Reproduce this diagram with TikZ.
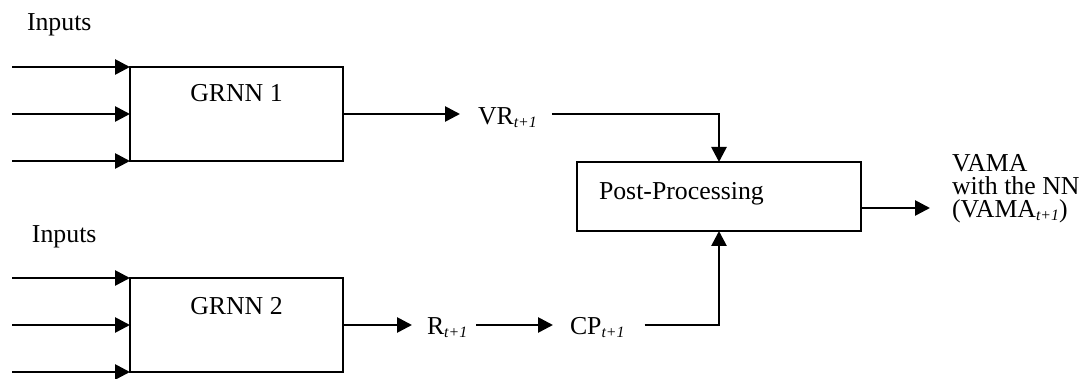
\documentclass[tikz,border=0pt]{standalone}
\usepackage{fontspec}
\setmainfont{Liberation Serif}
\usetikzlibrary{arrows.meta}
\newcommand\tsub{\raisebox{-1.5pt}{\fontsize{7.9}{8}\selectfont\itshape t+1}}
\begin{document}
\begin{tikzpicture}[x=0.5pt,y=-0.5pt,
  every node/.style={font=\fontsize{12.9}{14}\selectfont},
  box/.style={draw, line width=0.95pt, inner sep=0pt, outer sep=0pt},
  lbl/.style={inner sep=0pt, outer sep=0pt, anchor=base west},
  ctr/.style={inner sep=0pt, outer sep=0pt, anchor=base},
  arr/.style={line width=1.35pt, -{Triangle[length=7.5pt,width=7.5pt]}}]
\useasboundingbox (0,0) rectangle (1084,379);
\coordinate (L) at (12,0);
\coordinate (O) at (0,208);
% boxes
\node[box, minimum width=106.5pt, minimum height=47pt] (g1) at (236.5,114) {};
\node[box, minimum width=106.5pt, minimum height=47pt] (g2) at (236.5,325) {};
\node[box, minimum width=142pt, minimum height=34.5pt] (pp) at (719,196.5) {};
% labels
\node[lbl] (in1) at (27,31) {Inputs};
\node[lbl] (in2) at (32,243) {Inputs};
\node[ctr] (t1) at (236.5,102) {GRNN 1};
\node[ctr] (t2) at (236.5,315) {GRNN 2};
\node[lbl] (tp) at (599,200) {Post-Processing};
\node[lbl] (vr) at (478,125) {VR\tsub};
\node[lbl] (r) at (427,335) {R\tsub};
\node[lbl] (cp) at (570,335) {CP\tsub};
\node[lbl] (o1) at (952,172) {VAMA};
\node[lbl] (o2) at (952,195) {with the NN};
\node[lbl] (o3) at (952,218) {(VAMA\tsub)};
% input arrows
\foreach \b in {g1,g2}{
  \foreach \a in {north west, west, south west}{
    \draw[arr] (\b.\a -| L) -- (\b.\a);
  }}
% connectors
\draw[arr] (g1.east) -- ([xshift=-9pt]vr.west |- g1.east);
\draw[arr] ([xshift=7.5pt]vr.east |- g1.east) -| (pp.north);
\draw[arr] (g2.east) -- ([xshift=-7.5pt]r.west |- g2.east);
\draw[arr] ([xshift=4.5pt]r.east |- g2.east) -- ([xshift=-8.5pt]cp.west |- g2.east);
\draw[arr] ([xshift=10pt]cp.east |- g2.east) -| (pp.south);
\draw[arr] (pp.east |- O) -- ([xshift=-11pt]o1.west |- O);
\end{tikzpicture}
\end{document}
